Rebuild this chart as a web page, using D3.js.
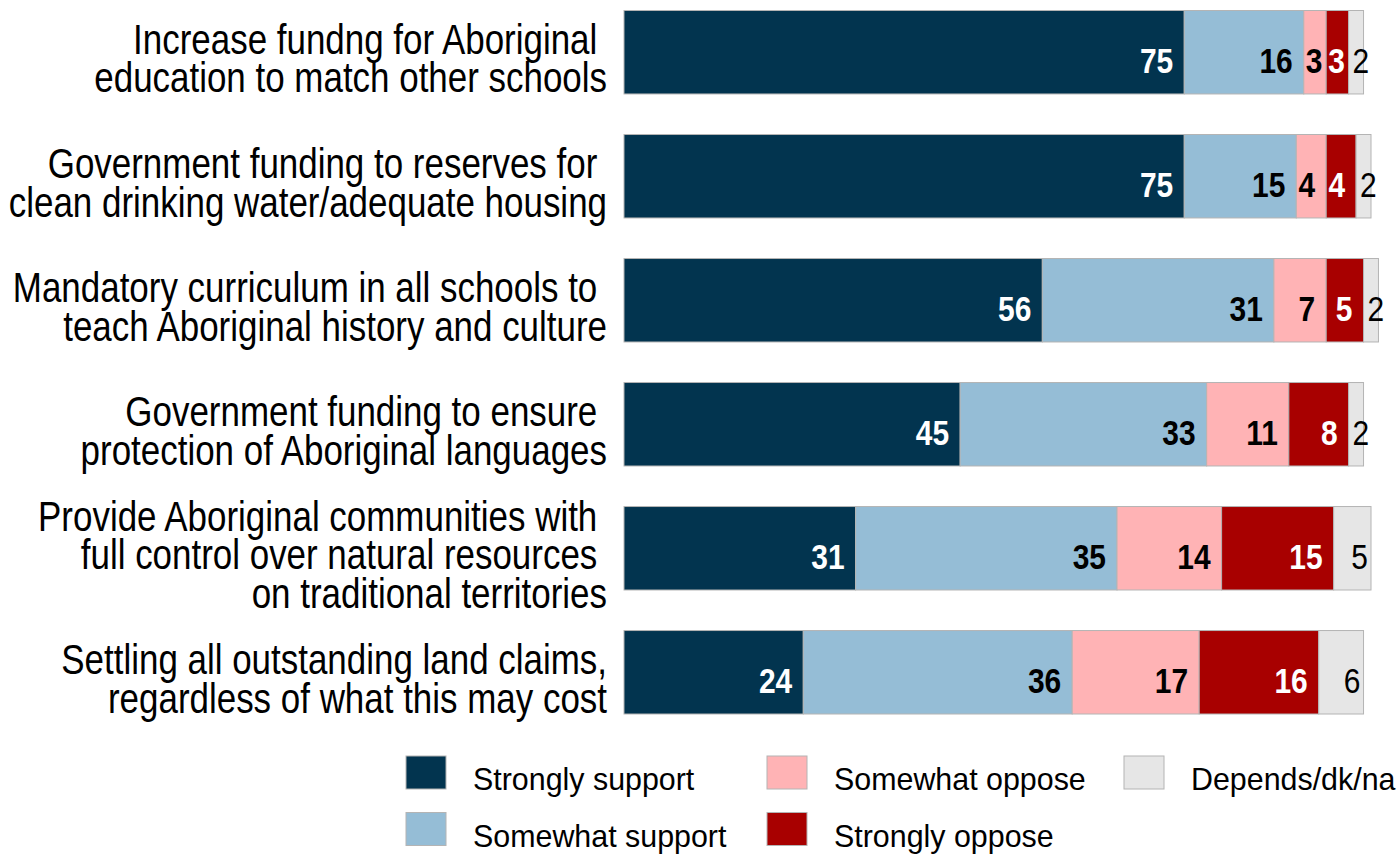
<!DOCTYPE html>
<html>
<head>
<meta charset="utf-8">
<script src="https://cdn.jsdelivr.net/npm/d3@7"></script>
<style>
  html, body { margin: 0; padding: 0; background: #ffffff; }
  svg { display: block; }
  .cat { font-family: "Liberation Sans", Arial, sans-serif; font-size: 42px; fill: #000; white-space: pre; }
  .val { font-family: "Liberation Sans", Arial, sans-serif; font-size: 36px; }
  .leg { font-family: "Liberation Sans", Arial, sans-serif; font-size: 32px; fill: #000; }
</style>
</head>
<body>
<svg id="chart" width="1399" height="856"></svg>
<script>
// Survey items, each split into lines as laid out beside its bar
const categories = [
  ["Increase fundng for Aboriginal ", "education to match other schools"],
  ["Government funding to reserves for ", "clean drinking water/adequate housing"],
  ["Mandatory curriculum in all schools to ", "teach Aboriginal history and culture"],
  ["Government funding to ensure ", "protection of Aboriginal languages"],
  ["Provide Aboriginal communities with ", "full control over natural resources ", "on traditional territories"],
  ["Settling all outstanding land claims,", "regardless of what this may cost"]
];

const seriesNames = ["Strongly support", "Somewhat support", "Somewhat oppose", "Strongly oppose", "Depends/dk/na"];

// Percentages per item
const stronglySupport = [75, 75, 56, 45, 31, 24];
const somewhatSupport = [16, 15, 31, 33, 35, 36];
const somewhatOppose  = [3, 4, 7, 11, 14, 17];
const stronglyOppose  = [3, 4, 5, 8, 15, 16];
const dependsDkNa     = [2, 2, 2, 2, 5, 6];

const seriesColors = ["#02344f", "#95bdd6", "#ffb3b5", "#a80000", "#e6e6e6"];
const labelColors  = ["#ffffff", "#000000", "#000000", "#ffffff", "#000000"];
const labelWeights = ["bold", "bold", "bold", "bold", "normal"];

const values = [stronglySupport, somewhatSupport, somewhatOppose, stronglyOppose, dependsDkNa];

// Condensed lettering: the sans face squeezed horizontally
const narrow = 0.832;
const legendNarrow = 0.95;

const rows = categories.map((c, i) => {
  const r = { idx: i };
  seriesNames.forEach((s, k) => { r[s] = values[k][i]; });
  return r;
});

const stacked = d3.stack().keys(seriesNames)(rows);

const svg = d3.select("#chart");

const x = d3.scaleLinear().domain([0, 100]).range([624, 1371]);
const y = d3.scaleBand().domain(d3.range(categories.length)).range([10.5, 714]).paddingInner(0.327).paddingOuter(0);

// Bars
const layers = svg.append("g").selectAll("g")
  .data(stacked)
  .join("g")
  .attr("fill", (d, k) => seriesColors[k]);

layers.selectAll("rect")
  .data(d => d)
  .join("rect")
  .attr("x", d => x(d[0]))
  .attr("y", (d, i) => y(i))
  .attr("width", d => x(d[1]) - x(d[0]))
  .attr("height", y.bandwidth())
  .attr("stroke", "#b4b4b4")
  .attr("stroke-width", 1);

// Value labels, tucked against the right end of each segment
const labelLayer = svg.append("g");
stacked.forEach((layer, k) => {
  layer.forEach((d, i) => {
    const x0 = x(d[0]), x1 = x(d[1]);
    const cy = y(i) + y.bandwidth() / 2;
    const t = labelLayer.append("text")
      .attr("class", "val")
      .attr("fill", labelColors[k])
      .attr("font-weight", labelWeights[k])
      .attr("x", 0)
      .attr("y", 0)
      .text(values[k][i]);
    const w = t.node().getComputedTextLength() * narrow;
    let left;
    if (k === seriesNames.length - 1) {
      left = (x1 - x0 >= w + 8) ? x1 - 3 - w : x0 + 4;
    } else {
      left = Math.max(x1 - 11 - w, x0 + 2);
    }
    t.attr("transform", `translate(${left},${cy + 21}) scale(${narrow},1)`);
  });
});

// Category labels, right-aligned beside the bars
const catLayer = svg.append("g");
categories.forEach((lines, i) => {
  const cy = y(i) + y.bandwidth() / 2;
  const n = lines.length;
  const t = catLayer.append("text")
    .attr("class", "cat")
    .attr("text-anchor", "end")
    .attr("xml:space", "preserve")
    .attr("transform", `translate(607,${cy + 21}) scale(${narrow},1)`);
  lines.forEach((ln, j) => {
    t.append("tspan")
      .attr("x", 0)
      .attr("y", (j - (n - 1) / 2) * 38.5)
      .text(ln);
  });
});

// Legend, filled column by column
const legendCols = [406, 767, 1124];
const legendRows = [756, 812.5];
const leg = svg.append("g");
seriesNames.forEach((s, k) => {
  const cx = legendCols[Math.floor(k / 2)];
  const ry = legendRows[k % 2];
  leg.append("rect")
    .attr("x", cx).attr("y", ry)
    .attr("width", 40).attr("height", 33)
    .attr("fill", seriesColors[k])
    .attr("stroke", "#b4b4b4").attr("stroke-width", 1);
  leg.append("text")
    .attr("class", "leg")
    .attr("transform", `translate(${cx + 67},${ry + 34}) scale(${legendNarrow},1)`)
    .text(s);
});
</script>
</body>
</html>
